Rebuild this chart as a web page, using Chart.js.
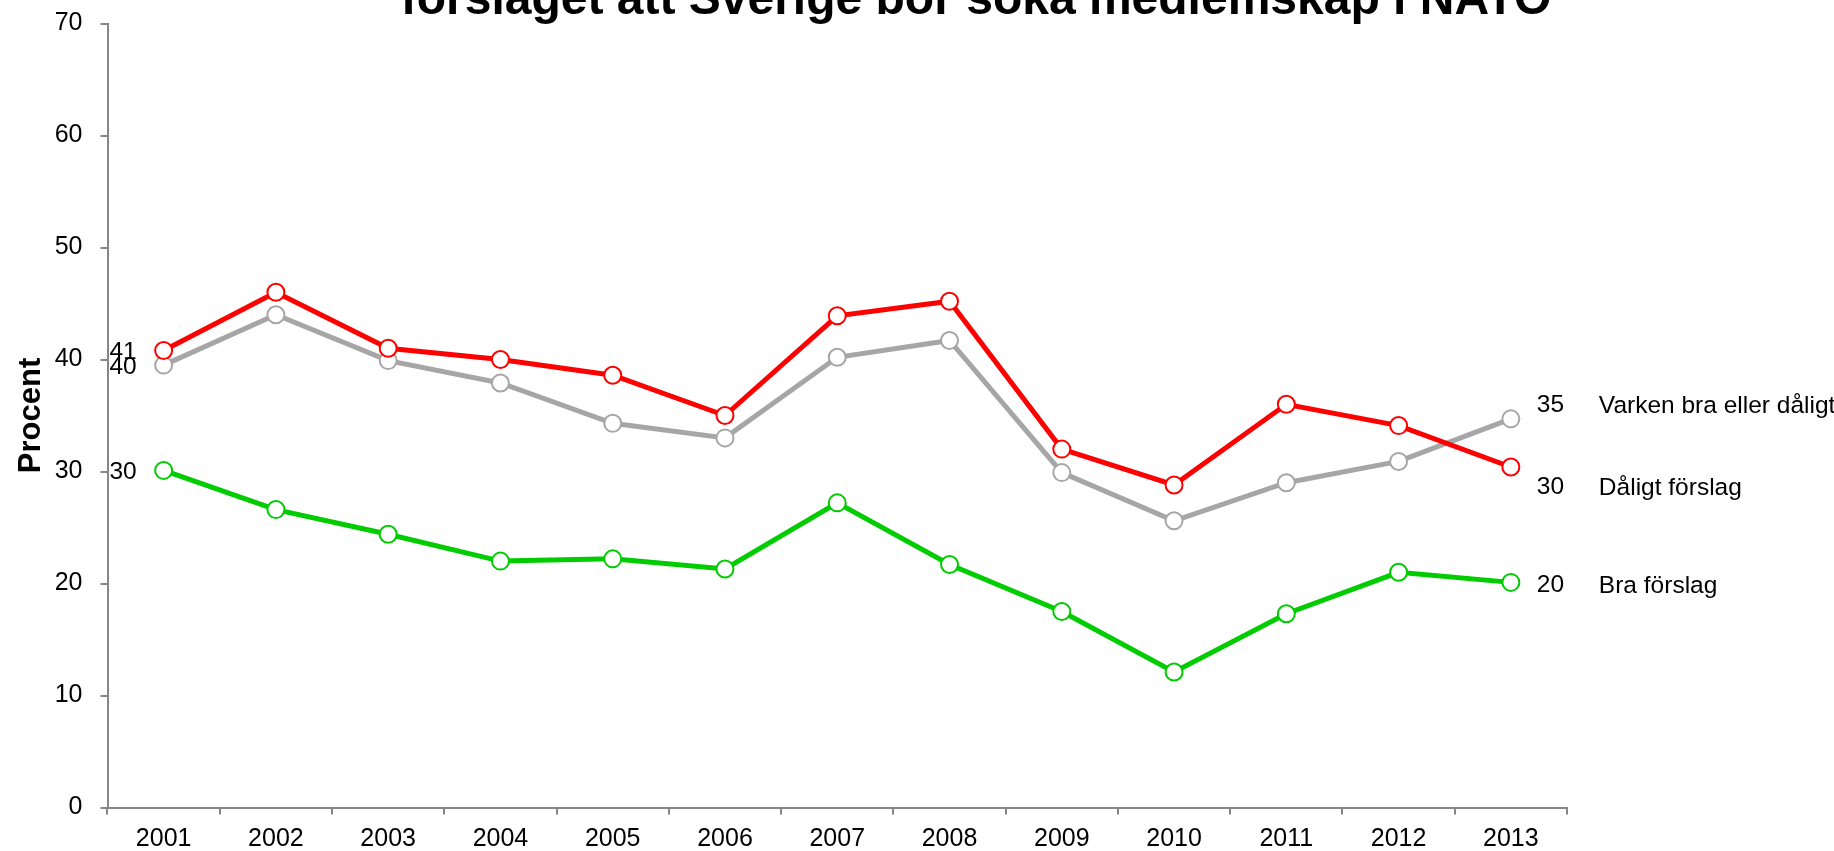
<!DOCTYPE html>
<html>
<head>
<meta charset="utf-8">
<script src="https://cdn.jsdelivr.net/npm/chart.js"></script>
<style>
  html, body { margin: 0; padding: 0; background: #ffffff; }
  #wrap { width: 1834px; height: 851px; position: relative; }
</style>
</head>
<body>
<div id="wrap"><canvas id="c"></canvas></div>
<script>
// ---- data ----
const years = ['2001','2002','2003','2004','2005','2006','2007','2008','2009','2010','2011','2012','2013'];
const seriesNames = ['Varken bra eller dåligt', 'Dåligt förslag', 'Bra förslag'];
const varken = [39.5, 44.0, 39.9, 37.9, 34.3, 33.0, 40.2, 41.7, 29.9, 25.6, 29.0, 30.9, 34.7];
const daligt = [40.8, 46.0, 41.0, 40.0, 38.6, 35.0, 43.9, 45.2, 32.0, 28.8, 36.0, 34.1, 30.4];
const bra    = [30.1, 26.6, 24.4, 22.0, 22.2, 21.3, 27.2, 21.7, 17.5, 12.1, 17.3, 21.0, 20.1];
const yTicks = [0, 10, 20, 30, 40, 50, 60, 70];
const titleText = 'förslaget att Sverige bör söka medlemskap i NATO';
const yAxisTitle = 'Procent';

const FONT = '"Liberation Sans", Arial, sans-serif';
const colors = ['#a6a6a6', '#ff0000', '#00cc00'];
// vertical nudges for the right-hand labels (styling only)
const rightLabelShift = [-14, 20, 3];

const titlePlugin = {
  id: 'cutTitle',
  afterDraw(chart) {
    const ctx = chart.ctx;
    ctx.save();
    ctx.font = 'bold 48px ' + FONT;
    ctx.fillStyle = '#000';
    ctx.textAlign = 'center';
    ctx.textBaseline = 'alphabetic';
    ctx.fillText(titleText, 976, 14);
    ctx.restore();
  }
};

const labelPlugin = {
  id: 'endLabels',
  afterDatasetsDraw(chart) {
    const ctx = chart.ctx;
    ctx.save();
    ctx.font = '24.5px ' + FONT;
    ctx.fillStyle = '#000';
    ctx.textBaseline = 'middle';
    chart.data.datasets.forEach((ds, i) => {
      const meta = chart.getDatasetMeta(i);
      const first = meta.data[0];
      const last = meta.data[meta.data.length - 1];
      const v0 = ds.data[0];
      const vN = ds.data[ds.data.length - 1];
      ctx.textAlign = 'right';
      ctx.fillText(String(Math.round(v0)), first.x - 27, first.y + 2);
      ctx.textAlign = 'left';
      const yy = last.y + rightLabelShift[i];
      ctx.fillText(String(Math.round(vN)), last.x + 26, yy);
      ctx.fillText(ds.label, last.x + 88, yy + 1);
    });
    ctx.restore();
  }
};

function mk(label, data, color, order) {
  return {
    label, data,
    borderColor: color,
    borderWidth: 5,
    pointRadius: 8.5,
    pointHoverRadius: 8.5,
    pointBorderWidth: 2,
    pointBorderColor: color,
    pointBackgroundColor: '#ffffff',
    tension: 0,
    fill: false,
    order
  };
}

new Chart(document.getElementById('c'), {
  type: 'line',
  data: {
    labels: years,
    datasets: [
      mk(seriesNames[0], varken, colors[0], 2),
      mk(seriesNames[1], daligt, colors[1], 1),
      mk(seriesNames[2], bra, colors[2], 0)
    ]
  },
  options: {
    responsive: true,
    maintainAspectRatio: false,
    devicePixelRatio: 1,
    animation: false,
    layout: { padding: { left: 0, right: 267, top: 23.5, bottom: 0 } },
    plugins: {
      legend: { display: false },
      title: { display: false },
      tooltip: { enabled: false }
    },
    scales: {
      x: {
        type: 'category',
        offset: true,
        grid: {
          offset: true,
          drawOnChartArea: false,
          drawTicks: true,
          tickLength: 7,
          color: '#868686',
          lineWidth: 2
        },
        border: { display: true, color: '#868686', width: 2 },
        ticks: {
          font: { family: FONT, size: 25 },
          color: '#000',
          padding: 10,
          maxRotation: 0,
          autoSkip: false
        },
        afterFit(s) { s.height = 43.5; }
      },
      y: {
        min: 0,
        max: 70,
        afterBuildTicks(s) { s.ticks = yTicks.map(v => ({ value: v })); },
        grid: {
          drawOnChartArea: false,
          drawTicks: true,
          tickLength: 7,
          color: '#868686',
          lineWidth: 2
        },
        border: { display: true, color: '#868686', width: 2 },
        ticks: {
          font: { family: FONT, size: 25 },
          color: '#000',
          padding: 18
        },
        title: {
          display: true,
          text: yAxisTitle,
          font: { family: FONT, size: 31, weight: 'bold' },
          color: '#000',
          padding: { top: 13, bottom: 0 }
        },
        afterFit(s) { s.width = 107.5; s.paddingTop = 0; s.paddingBottom = 0; }
      }
    }
  },
  plugins: [labelPlugin, titlePlugin]
});
</script>
</body>
</html>
